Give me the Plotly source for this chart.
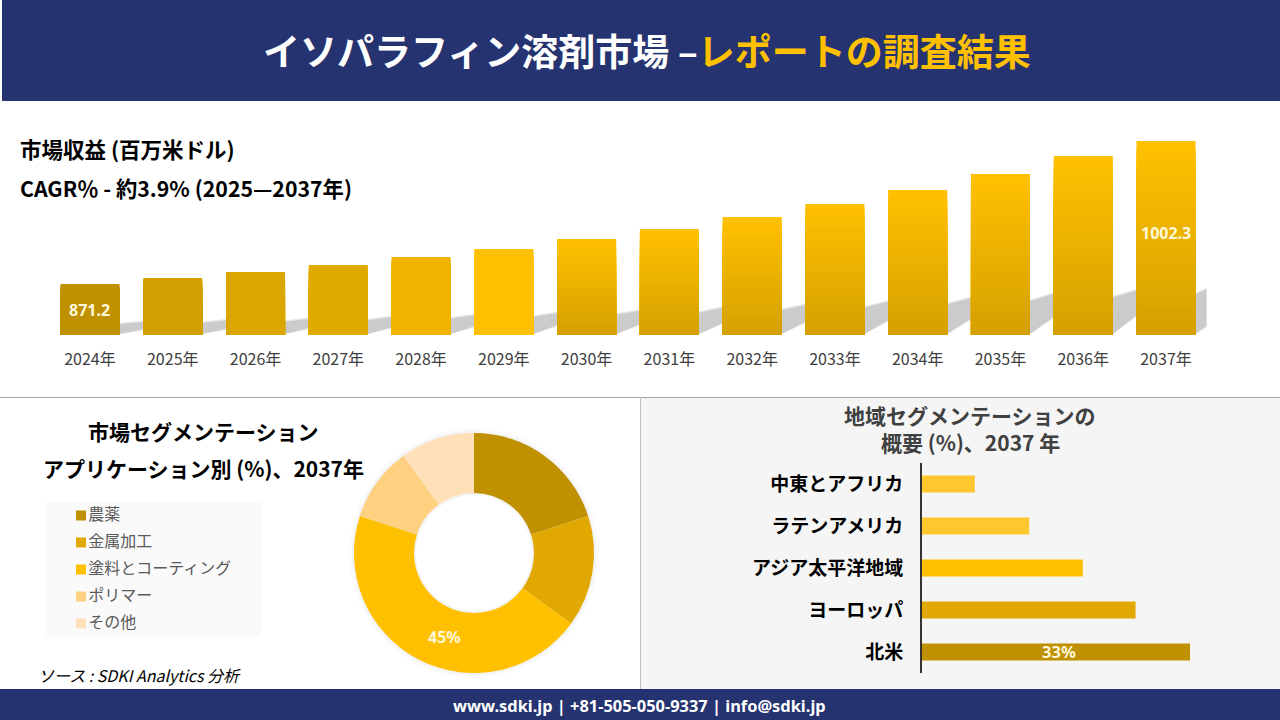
import plotly.graph_objects as go

years = ['2024年', '2025年', '2026年', '2027年', '2028年', '2029年', '2030年',
         '2031年', '2032年', '2033年', '2034年', '2035年', '2036年', '2037年']
revenue = [871.2, 876.7, 882.2, 888.6, 895.9, 903.3, 912.4,
           921.6, 932.6, 944.5, 957.4, 972.0, 988.5, 1002.3]
revenue_labels = ['871.2', '', '', '', '', '', '', '', '', '', '', '', '', '1002.3']
bar_top_colors = ['#BF9000', '#D1A000', '#DAA600', '#E0AA00', '#F0B400', '#FFC000', '#FFC000',
                  '#FFC000', '#FFC000', '#FFC000', '#FFC000', '#FFC000', '#FFC000', '#FFC000']
bar_bottom_colors = ['#BF9000', '#D1A000', '#DAA600', '#E0AA00', '#F0B400', '#FFC000', '#D4A000',
                     '#D4A000', '#D4A000', '#D4A000', '#D4A000', '#D4A000', '#D4A000', '#D4A000']

applications = ['農薬', '金属加工', '塗料とコーティング', 'ポリマー', 'その他']
application_share = [20, 15, 45, 10, 10]
application_colors = ['#BF9000', '#E0A800', '#FFC000', '#FFD080', '#FFE0B8']

regions = ['北米', 'ヨーロッパ', 'アジア太平洋地域', 'ラテンアメリカ', '中東とアフリカ']
region_share = [33, 26.3, 19.8, 13.2, 6.5]
region_colors = ['#BF9000', '#E0A800', '#FFC000', '#FFC72E', '#FFC72E']

NAVY = '#253370'
GOLD = '#FFC000'
LABEL = '#FFF8D8'
JP = 'Noto Sans CJK JP'
W, H = 1280, 720
AXIS_FLOOR = 824.45
GRADIENT_STEPS = 30
PX_PER_UNIT = 194 / (1002.3 - AXIS_FLOOR)


def px(x):
    return x / W


def py(y):
    return 1 - y / H


def blend(c1, c2, t):
    a = [int(c1[i:i + 2], 16) for i in (1, 3, 5)]
    b = [int(c2[i:i + 2], 16) for i in (1, 3, 5)]
    return 'rgb(%d,%d,%d)' % tuple(round(p + (q - p) * t) for p, q in zip(a, b))


def rect(x0, y0, x1, y1, fill, layer='below'):
    return dict(type='rect', xref='paper', yref='paper', x0=px(x0), x1=px(x1), y0=py(y0), y1=py(y1),
                fillcolor=fill, line_width=0, layer=layer)


def circle(cx, cy, r, fill):
    return dict(type='circle', xref='paper', yref='paper', x0=px(cx - r), x1=px(cx + r), y0=py(cy + r), y1=py(cy - r),
                fillcolor=fill, line_width=0, layer='below')


def text(x, y, s, size, color='#000000', bold=True, anchor='center', italic=False, font=JP):
    if bold:
        s = '<b>%s</b>' % s
    if italic:
        s = '<i>%s</i>' % s
    return dict(xref='paper', yref='paper', x=px(x), y=py(y), text=s, showarrow=False, xanchor=anchor,
                yanchor='middle', font=dict(family=font, size=size, color=color))


def shadow(i, grow, fill):
    # floor shadow of a column, about a quarter of the column height
    right = 90 + 82.77 * i + 29.5
    gap = 24 if i < len(revenue) - 1 else 11
    next_v = revenue[min(i + 1, len(revenue) - 1)]
    top_l = (revenue[i] - AXIS_FLOOR) * PX_PER_UNIT * 0.21
    top_r = (next_v - AXIS_FLOOR) * PX_PER_UNIT * 0.23
    if i == len(revenue) - 1:
        top_r = top_l + 5
    low_r = top_r * 0.45 if i < len(revenue) - 1 else top_r * 0.2
    points = [(right, 334), (right, 335 - top_l - grow), (right + gap, 335 - top_r - grow),
              (right + gap, 335 - low_r + grow)]
    d = 'M ' + ' L '.join('%f %f' % (px(a), py(b)) for a, b in points) + ' Z'
    return dict(type='path', xref='paper', yref='paper', path=d, fillcolor=fill, line_width=0, layer='below')


fig = go.Figure()

# column chart, gradient made from overlaid shrinking bars
for k in range(GRADIENT_STEPS):
    t = k / (GRADIENT_STEPS - 1)
    fig.add_trace(go.Bar(
        x=years,
        y=[AXIS_FLOOR + (v - AXIS_FLOOR) * (1 - t) for v in revenue],
        marker=dict(color=[blend(a, b, t) for a, b in zip(bar_top_colors, bar_bottom_colors)], line_width=0),
        showlegend=False,
        hoverinfo='skip',
    ))

# donut
fig.add_trace(go.Pie(
    labels=applications,
    values=application_share,
    textinfo='none',
    marker=dict(colors=application_colors, line_width=0),
    hole=0.5,
    sort=False,
    direction='clockwise',
    rotation=0,
    showlegend=False,
    domain=dict(x=[px(354), px(594)], y=[py(673), py(433)]),
))

# hand placed legend block
fig.add_trace(go.Scatter(
    x=[0] * len(applications),
    y=applications,
    mode='markers+text',
    text=applications,
    textposition='middle right',
    textfont=dict(family=JP, size=16, color='#595959'),
    marker=dict(symbol='square', size=10, color=application_colors),
    cliponaxis=False,
    showlegend=False,
    xaxis='x3',
    yaxis='y3',
))

# regional bars
fig.add_trace(go.Bar(
    x=region_share,
    y=regions,
    orientation='h',
    width=0.41,
    marker=dict(color=region_colors, line_width=0),
    showlegend=False,
    xaxis='x2',
    yaxis='y2',
))

shapes = [
    rect(2, 0, W, 101, NAVY),
    rect(0, 689, W, H, NAVY),
    rect(641, 398, W, 689, '#F5F5F5'),
    rect(0, 397, W, 398, '#A6A6A6'),
    rect(640, 397, 641, 689, '#BFBFBF'),
    rect(46, 502, 261, 637, '#FAFAFA'),
    circle(474, 553, 125, '#FBFBFB'),
    circle(474, 553, 122, '#F3F3F3'),
    circle(474, 553, 58, '#FFFFFF'),
]
shapes += [shadow(i, 1.5, '#E6E6E6') for i in range(len(years))]
shapes += [shadow(i, 0, '#CBCBCB') for i in range(len(years))]

annotations = [
    text(647, 50, 'イソパラフィン溶剤市場 –<span style="color:%s">レポートの調査結果</span>' % GOLD, 37, '#FFFFFF'),
    text(18, 149, '市場収益 (百万米ドル)', 21.5, anchor='left'),
    text(18, 188, 'CAGR％ - 約3.9% (2025—2037年)', 21.3, anchor='left'),
    text(203, 431, '市場セグメンテーション', 21),
    text(203, 468, 'アプリケーション別 (%)、2037年', 21),
    text(970, 415, '地域セグメンテーションの', 21, '#404040'),
    text(970, 442, '概要 (%)、2037 年', 21, '#404040'),
    text(36, 675, 'ソース : SDKI Analytics 分析', 16, bold=False, anchor='left', italic=True),
    text(444, 637, '45%', 16, LABEL, font='Noto Sans'),
    text(1059, 651, '33%', 16.5, LABEL, font='Noto Sans'),
    text(639, 705, 'www.sdki.jp | +81-505-050-9337 | info@sdki.jp', 16.4, '#FFFFFF', font='Noto Sans'),
]
# value labels sit on the columns, mid height for the first, a little higher for the last
for year, value, label, shift in zip(years, revenue, revenue_labels, [0] * 13 + [5]):
    if label:
        annotations.append(dict(x=year, y=(value + AXIS_FLOOR) / 2, xref='x', yref='y', yshift=shift, text='<b>%s</b>' % label,
                                showarrow=False, font=dict(family='Noto Sans', size=16, color=LABEL)))

fig.update_layout(
    width=W,
    height=H,
    margin=dict(l=0, r=0, t=0, b=0),
    paper_bgcolor='#FFFFFF',
    plot_bgcolor='rgba(0,0,0,0)',
    barmode='overlay',
    bargap=0.287,
    font=dict(family=JP),
    shapes=shapes,
    annotations=annotations,
    xaxis=dict(domain=[px(48.6), px(1207.4)], type='category', showgrid=False, showline=False,
               tickfont=dict(family=JP, size=16, color='#404040'), ticks='', ticklabelstandoff=13),
    yaxis=dict(domain=[py(335), py(141)], range=[AXIS_FLOOR, 1002.3], visible=False),
    xaxis2=dict(domain=[px(922), px(1190)], range=[0, 33], visible=False, anchor='y2'),
    yaxis2=dict(domain=[py(673), py(463)], type='category', anchor='x2', showgrid=False, showline=True,
                linecolor='#333333', linewidth=2, ticks='', ticklabelstandoff=13,
                tickfont=dict(family=JP, size=19, color='#000000', weight='bold')),
    xaxis3=dict(domain=[px(81), px(261)], range=[0, 1], visible=False, anchor='y3'),
    yaxis3=dict(domain=[py(637), py(502)], type='category', range=[4.5, -0.5], visible=False, anchor='x3'),
)

fig.write_html('out.html', config=dict(displayModeBar=False), post_script="document.body.style.margin='0';")
